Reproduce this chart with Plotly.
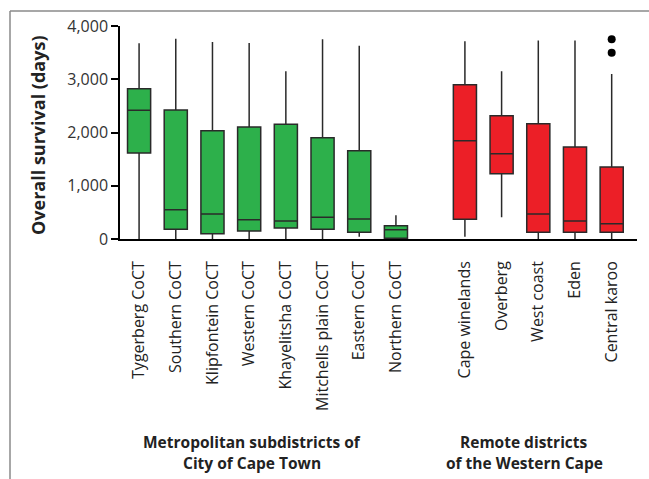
import plotly.graph_objects as go

metro = ["Tygerberg CoCT", "Southern CoCT", "Klipfontein CoCT", "Western CoCT",
         "Khayelitsha CoCT", "Mitchells plain CoCT", "Eastern CoCT", "Northern CoCT"]
remote = ["Cape winelands", "Overberg", "West coast", "Eden", "Central karoo"]

metro_low = [0, 0, 0, 0, 0, 0, 40, 0]
metro_q1 = [1615, 182, 100, 150, 207, 182, 126, 13]
metro_med = [2416, 550, 469, 362, 338, 408, 376, 175]
metro_q3 = [2823, 2423, 2034, 2103, 2154, 1903, 1659, 250]
metro_high = [3675, 3762, 3700, 3680, 3150, 3750, 3630, 445]

remote_low = [43, 408, 0, 0, 0]
remote_q1 = [370, 1226, 126, 126, 126]
remote_med = [1846, 1602, 469, 338, 288]
remote_q3 = [2898, 2316, 2166, 1728, 1352]
remote_high = [3712, 3150, 3730, 3730, 3099]

outlier_group = "Central karoo"
outlier_values = [3750, 3500]

yticks = [0, 1000, 2000, 3000, 4000]
ytick_text = ["0", "1,000", "2,000", "3,000", "4,000"]

metro_pos = [i for i in range(len(metro))]
remote_pos = [8.88 + i for i in range(len(remote))]

FONT = "Open Sans"
GREEN = "#2DB04B"
RED = "#EC1F27"

# page geometry (pixels) -> paper coordinates
L, T, WIDTH, HEIGHT = 10, 11, 649, 479
PW, PH = WIDTH - L, HEIGHT - T
def px(x):
    return (x - L) / PW
def py(y):
    return (HEIGHT - y) / PH

fig = go.Figure()
fig.add_trace(go.Box(
    x=metro_pos, q1=metro_q1, median=metro_med, q3=metro_q3,
    lowerfence=metro_low, upperfence=metro_high,
    fillcolor=GREEN, line=dict(color="#2a2a2a", width=1.5),
    whiskerwidth=0, width=0.63, boxpoints=False, showlegend=False,
))
fig.add_trace(go.Box(
    x=remote_pos, q1=remote_q1, median=remote_med, q3=remote_q3,
    lowerfence=remote_low, upperfence=remote_high,
    fillcolor=RED, line=dict(color="#2a2a2a", width=1.5),
    whiskerwidth=0, width=0.63, boxpoints=False, showlegend=False,
))
opos = remote_pos[remote.index(outlier_group)]
fig.add_trace(go.Scatter(
    x=[opos] * len(outlier_values), y=outlier_values, mode="markers",
    marker=dict(color="black", size=8), showlegend=False,
))

fig.update_layout(
    width=WIDTH, height=HEIGHT,
    margin=dict(l=L, r=0, t=T, b=0, pad=0, autoexpand=False),
    paper_bgcolor="white", plot_bgcolor="white",
    font=dict(family=FONT, color="#222"),
    xaxis=dict(
        domain=[px(120), px(637)], automargin=False,
        range=[-0.52, 13.57], tickvals=metro_pos + remote_pos,
        ticktext=metro + remote, tickangle=-90,
        ticks="outside", ticklen=14, tickcolor="rgba(0,0,0,0)",
        showgrid=False, zeroline=False, showline=True, linecolor="black",
        linewidth=1.5, tickfont=dict(size=16, family=FONT, color="#222"),
    ),
    yaxis=dict(
        domain=[py(239), py(26)], automargin=False,
        range=[0, 4000], tickvals=yticks, ticktext=ytick_text,
        ticks="outside", ticklen=7, tickcolor="black", tickwidth=1.5,
        showgrid=False, zeroline=False, showline=True, linecolor="black",
        linewidth=1.5, tickfont=dict(size=16, family=FONT, color="#333"),
    ),
)

fig.add_annotation(text="<b>Overall survival (days)</b>", x=px(38), y=py(135),
                   xref="paper", yref="paper", showarrow=False, textangle=-90,
                   xanchor="center", yanchor="middle",
                   font=dict(size=18, family=FONT, color="#222"))
for txt, x, y in [("<b>Metropolitan subdistricts of</b>", 252, 442),
                  ("<b>City of Cape Town</b>", 252, 463),
                  ("<b>Remote districts</b>", 524, 442),
                  ("<b>of the Western Cape</b>", 524, 463)]:
    fig.add_annotation(text=txt, x=px(x), y=py(y), xref="paper", yref="paper",
                       showarrow=False, xanchor="center", yanchor="middle",
                       font=dict(size=15.5, family=FONT, color="#222"))

# outer frame lines
fig.add_shape(type="line", xref="paper", yref="paper", x0=0, x1=1,
              y0=1, y1=1, line=dict(color="#8a8a8a", width=1.5))
fig.add_shape(type="line", xref="paper", yref="paper", x0=0, x1=0,
              y0=0, y1=1, line=dict(color="#8a8a8a", width=1.5))

fig.write_html("out.html", config={"displayModeBar": False},
               post_script="document.body.style.margin='0';")
